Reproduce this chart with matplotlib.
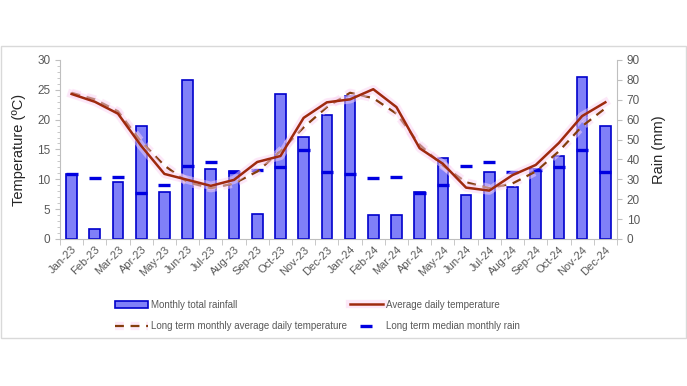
import matplotlib.pyplot as plt
import matplotlib.patheffects as pe
from matplotlib.patches import Rectangle
from matplotlib.ticker import MultipleLocator

# month labels
months = ["Jan-23", "Feb-23", "Mar-23", "Apr-23", "May-23", "Jun-23", "Jul-23", "Aug-23",
          "Sep-23", "Oct-23", "Nov-23", "Dec-23", "Jan-24", "Feb-24", "Mar-24", "Apr-24",
          "May-24", "Jun-24", "Jul-24", "Aug-24", "Sep-24", "Oct-24", "Nov-24", "Dec-24"]

# monthly total rainfall (mm)
rain = [32.7, 4.9, 28.4, 56.9, 23.8, 79.9, 35.4, 34.1, 12.4, 72.9, 51.2, 62.1,
        72.0, 11.9, 12.1, 23.5, 40.6, 22.0, 33.6, 26.2, 35.4, 41.8, 81.4, 56.7]

# long term median monthly rain (mm)
median_rain = [32.6, 30.4, 31.2, 23.0, 27.0, 36.6, 38.8, 33.6, 34.6, 36.4, 44.7, 33.6,
               32.6, 30.4, 31.2, 23.0, 27.0, 36.6, 38.8, 33.6, 34.6, 36.4, 44.7, 33.6]

# average daily temperature (C)
avg_temp = [24.3, 23.0, 21.0, 15.6, 10.9, 9.9, 8.9, 9.9, 12.9, 13.9, 20.3, 22.9,
            23.4, 25.1, 22.1, 15.2, 12.6, 8.6, 8.1, 10.7, 12.4, 16.1, 20.6, 22.9]

# long term monthly average daily temperature (C)
lt_temp = [24.5, 23.4, 21.4, 16.3, 12.3, 9.5, 8.5, 9.3, 11.3, 14.7, 18.7, 22.1,
           24.5, 23.6, 21.0, 15.8, 12.3, 9.5, 8.5, 9.3, 11.3, 14.7, 18.9, 21.9]

x = list(range(len(months)))
grey = "#595959"
plt.rcParams["font.family"] = ["Liberation Sans", "DejaVu Sans"]

fig = plt.figure(figsize=(6.87, 3.86), dpi=100)
fig.patches.append(Rectangle((0.002, 0.125), 0.996, 0.755, transform=fig.transFigure,
                             fill=False, edgecolor="#d9d9d9", linewidth=1))

ax = fig.add_axes([0.0873, 0.381, 0.8107, 0.4636])
ax2 = ax.twinx()

# rainfall bars and median markers on right axis
bars = ax2.bar(x, rain, width=0.46, color="#8080f8", edgecolor="#0000cc", linewidth=1.2,
               label="Monthly total rainfall", zorder=2)
med, = ax2.plot(x, median_rain, linestyle="none", marker="_", markersize=8.5, mew=2.4,
                color="#0000e0", label="Long term median monthly rain", zorder=3)
ax2.set_ylim(0, 90)
ax2.yaxis.set_major_locator(MultipleLocator(10))

# temperature lines on left axis, drawn above bars
ax.set_zorder(ax2.get_zorder() + 1)
ax.patch.set_visible(False)
glow = [pe.Stroke(linewidth=6, foreground="#fbd3f3", alpha=0.5), pe.Normal()]
lt, = ax.plot(x, lt_temp, linestyle=(0, (4, 3)), color="#843c0c", linewidth=1.6,
              label="Long term monthly average daily temperature", path_effects=glow)
av, = ax.plot(x, avg_temp, color="#9e2a0e", linewidth=1.8,
              label="Average daily temperature", path_effects=glow)
ax.set_ylim(0, 30)
ax.set_xlim(-0.5, 23.5)
ax.yaxis.set_major_locator(MultipleLocator(5))
ax.yaxis.set_minor_locator(MultipleLocator(1))

ax.set_xticks(x)
ax.set_xticklabels(months, rotation=45, ha="right", rotation_mode="anchor",
                   fontsize=8, color=grey)
ax.set_xticks([i - 0.5 for i in range(len(months) + 1)], minor=True)
ax.tick_params(axis="x", which="major", length=0, pad=4)
ax.tick_params(axis="x", which="minor", length=4, color="#bfbfbf", direction="out")
ax.tick_params(axis="y", which="both", colors="#bfbfbf", labelcolor=grey, labelsize=8.5)
ax.tick_params(axis="y", which="minor", length=2)
ax2.tick_params(axis="y", colors="#bfbfbf", labelcolor=grey, labelsize=8.5)

for a in (ax, ax2):
    for s in a.spines.values():
        s.set_visible(False)
ax.spines["left"].set_visible(True)
ax.spines["bottom"].set_visible(True)
ax2.spines["right"].set_visible(True)
for s in (ax.spines["left"], ax.spines["bottom"], ax2.spines["right"]):
    s.set_color("#bfbfbf")

ax.set_ylabel("Temperature (ºC)", fontsize=10.5, color="#262626", labelpad=8)
ax2.set_ylabel("Rain (mm)", fontsize=10.5, color="#262626", labelpad=9)

fig.legend([bars, lt, av, med],
           ["Monthly total rainfall", "Long term monthly average daily temperature",
            "Average daily temperature", "Long term median monthly rain"],
           ncol=2, loc="upper left", bbox_to_anchor=(0.160, 0.236), frameon=False,
           borderpad=0, prop={"size": 7}, labelcolor=grey,
           columnspacing=0.3, handlelength=3.4, handletextpad=0.3, labelspacing=1.2)

fig.savefig("out.png", dpi=100)
